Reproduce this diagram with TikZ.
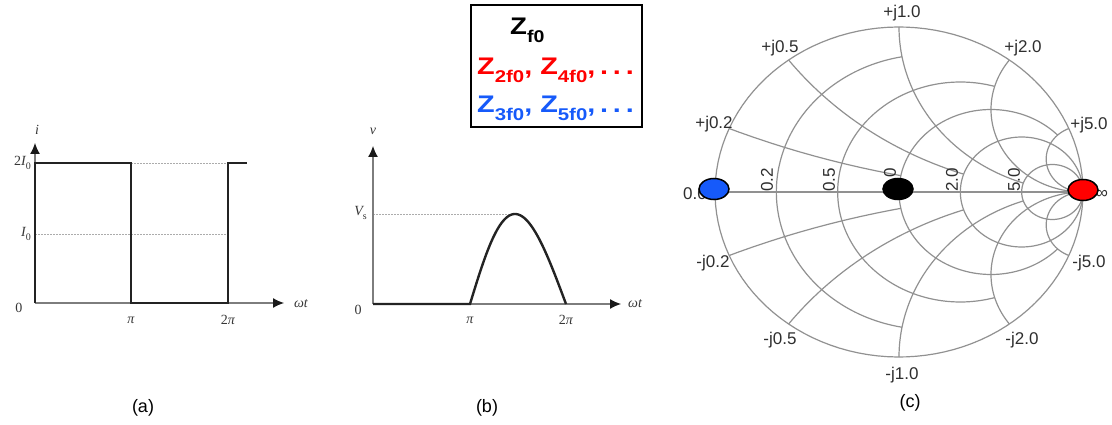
\documentclass[tikz,border=0pt]{standalone}
\usepackage{fontspec}
\setmainfont{Liberation Sans}
\newfontfamily\tms{Liberation Serif}
\usetikzlibrary{arrows.meta,shapes.geometric}
\definecolor{zred}{RGB}{255,0,0}
\definecolor{zblue}{RGB}{22,90,250}
\definecolor{gridc}{RGB}{145,145,145}
\definecolor{axisc}{RGB}{125,125,125}
\definecolor{wavec}{RGB}{35,35,35}
\definecolor{labc}{RGB}{55,55,55}
\newcommand{\Zs}[1]{Z\raisebox{-0.3em}{\fontsize{17}{17}\selectfont #1}}
\newcommand{\lsub}[1]{\raisebox{-0.3em}{\fontsize{10}{10}\selectfont\upshape #1}}
\newcommand{\smarc}[5]{\draw[gridline] plot[domain=#4:#5, samples=120, variable=\t] ({#1+#3*cos(\t)}, {#2+#3*sin(\t)});}
\begin{document}
\begin{tikzpicture}[x=1pt,y=-1pt,
  axisline/.style={draw=axisc, line width=1.2pt, -{Latex[length=11pt,width=10pt,color=black!90]}},
  waveline/.style={draw=wavec, line width=2.4pt, line join=miter},
  guideline/.style={draw=gray!65, line width=0.6pt, dash pattern=on 2pt off 1pt},
  plab/.style={text=labc, font=\fontsize{14}{16}\selectfont\tms, inner sep=0pt},
  gridline/.style={draw=gridc, line width=1.2pt},
  slab/.style={text=black!82, font=\fontsize{17}{19}\selectfont, inner sep=0pt},
  caplab/.style={font=\fontsize{18}{20}\selectfont, inner sep=0pt},
  boxtext/.style={font=\fontsize{24}{26}\selectfont\bfseries, inner sep=0pt, anchor=base west},
  dotstyle/.style={ellipse, draw=black, line width=1.5pt, minimum width=30pt, minimum height=21pt, inner sep=0pt}
]
\useasboundingbox (0,0) rectangle (1112,425);

% ---------- (a) ----------
\coordinate (ao) at (35,303);
\coordinate (ay) at (35,143);
\coordinate (ax) at (284,303);
\draw[guideline] (131,163) -- (228,163);
\draw[guideline] (35,234) -- (228,234);
\draw[axisline] (ao) -- (ay);
\draw[axisline] (ao) -- (ax);
\draw[waveline] (ao) -- (35,163) -- (131,163) -- (131,303) -- (228,303) -- (228,163) -- (247,163);
\node[plab] (ai) at (37,130) {\itshape i};
\node[plab, anchor=east] (a2i) at (31,163) {2\itshape I\lsub{0}};
\node[plab, anchor=east] (aI) at (31,234) {\itshape I\lsub{0}};
\node[plab] (a0) at (19,308) {0};
\node[plab] (api) at (131,320) {\itshape π};
\node[plab] (a2pi) at (228,320) {2\itshape π};
\node[plab] (awt) at (301,304) {\itshape ωt};
\node[caplab] (capa) at (143,408) {(a)};

% ---------- (b) ----------
\coordinate (bo) at (373,304);
\coordinate (by) at (373,146);
\coordinate (bx) at (621,304);
\draw[guideline] (373,214) -- (515,214);
\draw[axisline] (bo) -- (by);
\draw[axisline] (bo) -- (bx);
\draw[waveline] (bo) -- (470,304) -- plot[domain=0:180, samples=60, variable=\t] ({470+0.53333*\t-3*sin(\t)}, {304-90*sin(\t)});
\node[plab] (bv) at (373,131) {\itshape v};
\node[plab, anchor=east] (bvs) at (367,213) {\itshape V\lsub{s}};
\node[plab] (b0) at (358,310) {0};
\node[plab] (bpi) at (470,320) {\itshape π};
\node[plab] (b2pi) at (566,320) {2\itshape π};
\node[plab] (bwt) at (635,304) {\itshape ωt};
\node[caplab] (capb) at (487,408) {(b)};

% ---------- legend box ----------
\node[draw=black, line width=2.2pt, minimum width=171pt, minimum height=122pt, inner sep=0pt] (box) at (556.5,66) {};
\node[boxtext, text=black] (zf0) at (510,35) {\scalebox{1.15}[1]{\Zs{f0}}};
\node[boxtext, text=zred] (zeven) at (477,75) {\scalebox{1.2}[1]{\Zs{2f0}, \Zs{4f0},\,.\,.\,.}};
\node[boxtext, text=zblue] (zodd) at (477,113) {\scalebox{1.2}[1]{\Zs{3f0}, \Zs{5f0},\,.\,.\,.}};

% ---------- (c) Smith chart ----------
\begin{scope}[shift={(899,192)}, x=184pt, y=165pt]
\draw[gridline] (-1,0) -- (1,0);
\smarc{0}{0}{1}{0}{360}
% resistance circles
\smarc{0.16667}{0}{0.83333}{100.39}{259.61}
\smarc{0.33333}{0}{0.66667}{73.74}{286.26}
\smarc{0.5}{0}{0.5}{43.60}{316.40}
\smarc{0.66667}{0}{0.33333}{0}{360}
\smarc{0.83333}{0}{0.16667}{0}{360}
% positive reactance arcs
\smarc{1}{5}{5}{247.38}{258.58}
\smarc{1}{2}{2}{216.87}{251.08}
\smarc{1}{1}{1}{180}{251.08}
\smarc{1}{0.5}{0.5}{143.13}{270}
\smarc{1}{0.2}{0.2}{112.62}{270}
% negative reactance arcs
\smarc{1}{-5}{5}{101.42}{112.62}
\smarc{1}{-2}{2}{108.92}{143.13}
\smarc{1}{-1}{1}{108.92}{180}
\smarc{1}{-0.5}{0.5}{90}{216.87}
\smarc{1}{-0.2}{0.2}{90}{247.38}
\end{scope}

% resistance labels
\node[slab, rotate=90] (r02) at (767,180) {0.2};
\node[slab, rotate=90] (r05) at (829,180) {0.5};
\node[slab, rotate=90] (r10) at (890,180) {1.0};
\node[slab, rotate=90] (r20) at (952,180) {2.0};
\node[slab, rotate=90] (r50) at (1014,180) {5.0};
\node[slab] (r00) at (695,194) {0.0};
\node[slab] (rinf) at (1102,194) {∞};

% reactance labels
\node[slab] (xp10) at (902,13) {+j1.0};
\node[slab] (xp05) at (780,48) {+j0.5};
\node[slab] (xp20) at (1023,48) {+j2.0};
\node[slab] (xp02) at (714,124) {+j0.2};
\node[slab] (xp50) at (1089,125) {+j5.0};
\node[slab] (xm02) at (713,263) {-j0.2};
\node[slab] (xm05) at (780,340) {-j0.5};
\node[slab] (xm10) at (902,375) {-j1.0};
\node[slab] (xm20) at (1022,340) {-j2.0};
\node[slab] (xm50) at (1089,263) {-j5.0};

% impedance dots
\node[dotstyle, fill=zblue] (dodd) at (714,189) {};
\node[dotstyle, fill=black] (dfund) at (898,189) {};
\node[dotstyle, fill=zred] (deven) at (1083,190) {};

\node[caplab] (capc) at (910,403) {(c)};
\end{tikzpicture}
\end{document}
